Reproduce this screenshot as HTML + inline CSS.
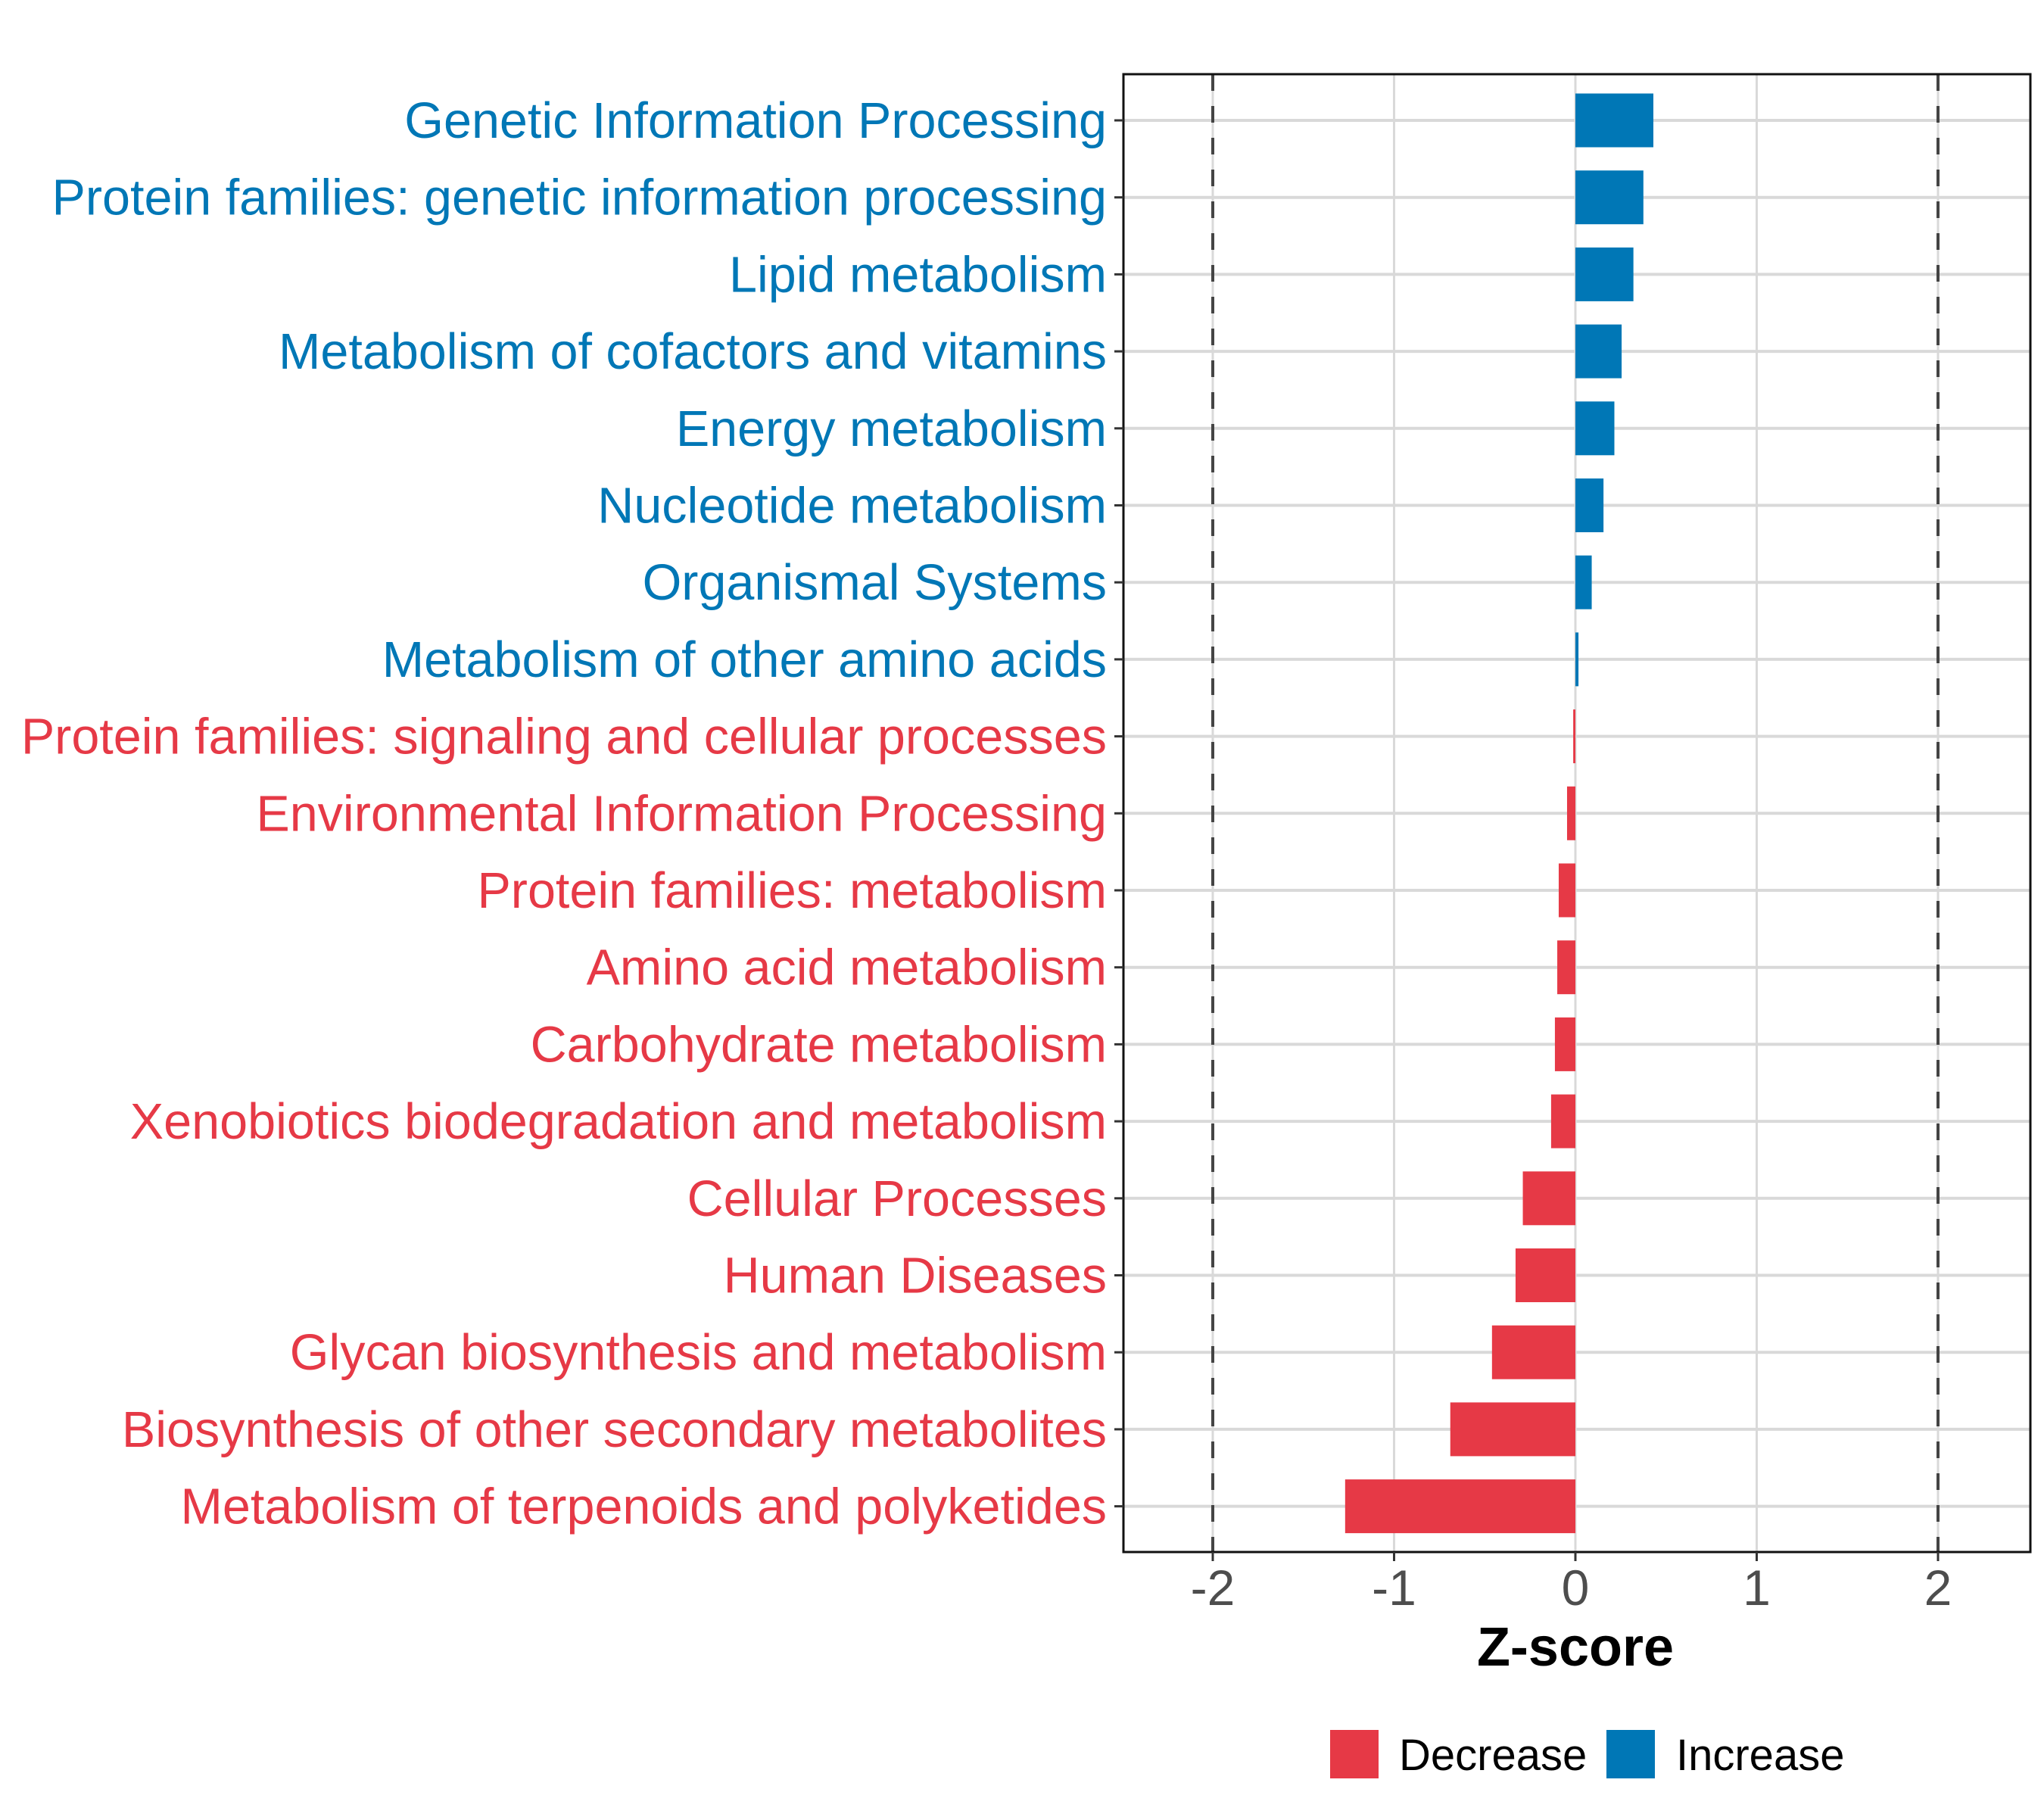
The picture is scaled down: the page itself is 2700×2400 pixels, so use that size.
<!DOCTYPE html>
<html><head><meta charset="utf-8"><style>
html,body{margin:0;padding:0;background:#fff;}
svg{display:block;font-family:"Liberation Sans",Arial,sans-serif;}
</style></head><body>
<svg id="chart" width="2700" height="2400" viewBox="0 0 2700 2400" xmlns="http://www.w3.org/2000/svg">
<rect x="0" y="0" width="2700" height="2400" fill="#fff"/>
<g id="grid"></g>
<g id="bars"></g>
<g id="refs"></g>
<rect x="1484" y="98" width="1198" height="1952" fill="none" stroke="#111" stroke-width="3"/>
<g id="ylabels"></g>
<g id="xticks"></g>
<text x="2081" y="2200" font-size="72" font-weight="bold" text-anchor="middle" fill="#000">Z-score</text>
<g>
<rect x="1757" y="2285" width="64" height="64" fill="#E63946"/>
<text x="1848" y="2338" font-size="58" fill="#000">Decrease</text>
<rect x="2122" y="2285" width="64" height="64" fill="#0077B6"/>
<text x="2214" y="2338" font-size="58" fill="#000">Increase</text>
</g>
</svg>
<script>
const categories = ["Genetic Information Processing","Protein families: genetic information processing","Lipid metabolism","Metabolism of cofactors and vitamins","Energy metabolism","Nucleotide metabolism","Organismal Systems","Metabolism of other amino acids","Protein families: signaling and cellular processes","Environmental Information Processing","Protein families: metabolism","Amino acid metabolism","Carbohydrate metabolism","Xenobiotics biodegradation and metabolism","Cellular Processes","Human Diseases","Glycan biosynthesis and metabolism","Biosynthesis of other secondary metabolites","Metabolism of terpenoids and polyketides"];
const zscores = [0.43,0.375,0.32,0.255,0.215,0.155,0.09,0.017,-0.012,-0.046,-0.092,-0.1,-0.113,-0.134,-0.29,-0.33,-0.46,-0.69,-1.27];
const xTicks = [-2,-1,0,1,2];
const xTickLabels = ["-2","-1","0","1","2"];
const refLines = [-2,2];

const NS="http://www.w3.org/2000/svg";
const X0=2081, UNIT=239.5, PL=1484, PR=2682, PT=98, PB=2050;
const ROW0=159, STEP=101.7, BARH=71;
function xs(v){return X0+v*UNIT;}
function ys(i){return ROW0+i*STEP;}
function mk(tag,attrs,parent){const e=document.createElementNS(NS,tag);for(const k in attrs)e.setAttribute(k,attrs[k]);parent.appendChild(e);return e;}
const grid=document.getElementById('grid'),bars=document.getElementById('bars'),refs=document.getElementById('refs'),yl=document.getElementById('ylabels'),xt=document.getElementById('xticks');
xTicks.forEach((t,i)=>{
  const l=mk('line',{x1:xs(t),x2:xs(t),y1:PT,y2:PB,stroke:'#d9d9d9','stroke-width':3},grid);
  
  
  const tk=mk('line',{x1:xs(t),x2:xs(t),y1:PB,y2:PB+12,stroke:'#333','stroke-width':3},xt);
  
  
  const tx=mk('text',{x:xs(t),y:PB+70,'font-size':66,'text-anchor':'middle',fill:'#4d4d4d'},xt);
  tx.textContent=xTickLabels[i];
  
  
});
categories.forEach((c,i)=>{
  const y=ys(i), v=zscores[i], col=v>=0?'#0077B6':'#E63946';
  const g=mk('line',{x1:PL,x2:PR,y1:y,y2:y,stroke:'#d9d9d9','stroke-width':4},grid);
  
  
  const x1=Math.min(xs(0),xs(v)), w=Math.abs(xs(v)-xs(0));
  const r=mk('rect',{x:x1,y:y-BARH/2,width:Math.max(w,1),height:BARH,fill:col},bars);
  
  
  const tk=mk('line',{x1:PL-12,x2:PL,y1:y,y2:y,stroke:'#333','stroke-width':3},yl);
  
  
  const t=mk('text',{x:1462,y:y+23,'font-size':66.5,'text-anchor':'end',fill:col},yl);
  t.textContent=c;
  
  
});
refLines.forEach(v=>{
  const l=mk('line',{x1:xs(v),x2:xs(v),y1:PT,y2:PB,stroke:'#444','stroke-width':4,'stroke-dasharray':'22,20'},refs);
  
  
});
</script>
</body></html>
